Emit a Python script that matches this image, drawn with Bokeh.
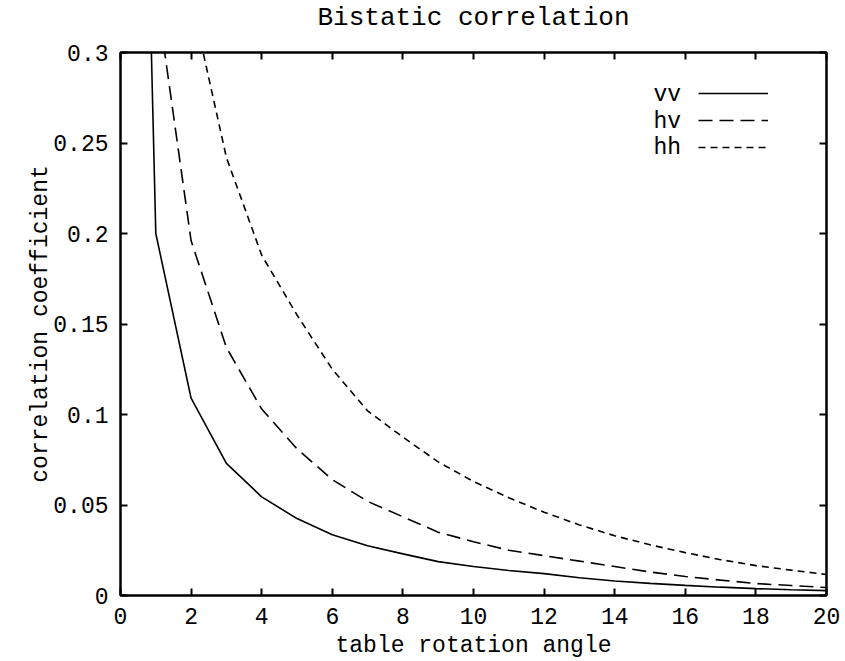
from bokeh.plotting import figure
from bokeh.models import (Range1d, LinearAxis, FixedTicker, Legend, LegendItem,
                          Label, ColumnDataSource)
from bokeh.embed import file_html
from bokeh.resources import INLINE

# ---- data ----
angle = list(range(0, 21))
vv = [1.0, 0.2, 0.109, 0.073, 0.0545, 0.0425, 0.0336, 0.0275, 0.023, 0.0187,
      0.016, 0.0138, 0.0121, 0.0098, 0.0080, 0.0067, 0.0056, 0.0046, 0.0038,
      0.0032, 0.0027]
hv = [1.0, 0.335, 0.196, 0.137, 0.103, 0.081, 0.064, 0.052, 0.0435, 0.035,
      0.0297, 0.025, 0.022, 0.019, 0.016, 0.013, 0.0105, 0.0085, 0.0066,
      0.0055, 0.0044]
hh = [1.0, 0.6, 0.33, 0.242, 0.188, 0.155, 0.125, 0.102, 0.0875, 0.0738,
      0.063, 0.054, 0.046, 0.039, 0.033, 0.028, 0.0237, 0.0198, 0.0165,
      0.014, 0.0116]
series_names = ["vv", "hv", "hh"]
title_text = "Bistatic correlation"

x_ticks = [0, 2, 4, 6, 8, 10, 12, 14, 16, 18, 20]
y_ticks = [0, 0.05, 0.1, 0.15, 0.2, 0.25, 0.3]
y_tick_labels = ["0", "0.05", "0.1", "0.15", "0.2", "0.25", "0.3"]

FONT = "Liberation Mono"

p = figure(width=845, height=661, output_backend="svg", toolbar_location=None,
           x_range=Range1d(0, 20), y_range=Range1d(0, 0.3),
           title=title_text,
           x_axis_label="table rotation angle",
           y_axis_label="correlation coefficient",
           min_border_left=120, min_border_right=19,
           min_border_top=52, min_border_bottom=64)

p.grid.visible = False
p.outline_line_color = "black"
p.outline_line_width = 2
p.background_fill_color = "white"
p.border_fill_color = "white"

p.title.text_font = FONT
p.title.text_font_size = "26px"
p.title.text_font_style = "normal"
p.title.align = "center"
p.title.text_color = "black"
p.title.standoff = 0

for ax in (p.xaxis[0], p.yaxis[0]):
    ax.axis_label_text_font = FONT
    ax.axis_label_text_font_size = "23px"
    ax.axis_label_text_font_style = "normal"
    ax.axis_label_text_color = "black"
    ax.major_label_text_font = FONT
    ax.major_label_text_font_size = "23px"
    ax.major_label_text_color = "black"
    ax.major_tick_in = 7
    ax.major_tick_out = 0
    ax.minor_tick_line_color = None
    ax.axis_line_width = 2
    ax.major_tick_line_width = 2
    ax.axis_line_color = "black"
    ax.major_tick_line_color = "black"

p.xaxis[0].ticker = FixedTicker(ticks=x_ticks)
p.yaxis[0].ticker = FixedTicker(ticks=y_ticks)
p.yaxis[0].major_label_overrides = dict(zip(y_ticks, y_tick_labels))
p.xaxis[0].major_label_standoff = 12
p.xaxis[0].axis_label_standoff = 6
p.yaxis[0].major_label_standoff = 12
p.yaxis[0].axis_label_standoff = -4

# mirrored tick axes (ticks only, no labels drawn); the top one also reserves
# the gap between the frame and the title
top_ax = LinearAxis(ticker=FixedTicker(ticks=x_ticks),
                    major_label_overrides={t: "" for t in x_ticks},
                    major_label_text_color=None, major_label_text_font_size="0px",
                    axis_label=" ", axis_label_text_color=None,
                    axis_label_text_font_size="14px", axis_label_standoff=1,
                    major_tick_in=7, major_tick_out=0, minor_tick_line_color=None,
                    axis_line_width=2, major_tick_line_width=2, major_label_standoff=0)
right_ax = LinearAxis(ticker=FixedTicker(ticks=y_ticks),
                      major_label_overrides={t: "" for t in y_ticks},
                      major_label_text_color=None, major_label_text_font_size="0px",
                      major_tick_in=7, major_tick_out=0, minor_tick_line_color=None,
                      axis_line_width=2, major_tick_line_width=2, major_label_standoff=0)
p.add_layout(top_ax, "above")
p.add_layout(right_ax, "right")

src = ColumnDataSource(dict(angle=angle, vv=vv, hv=hv, hh=hh))
r_vv = p.line("angle", "vv", source=src, line_color="black", line_width=1.6)
r_hv = p.line("angle", "hv", source=src, line_color="black", line_width=1.6,
              line_dash="14 7")
r_hh = p.line("angle", "hh", source=src, line_color="black", line_width=1.6,
              line_dash="7 5")

legend = Legend(items=[LegendItem(label="", renderers=[r]) for r in (r_vv, r_hv, r_hh)],
                location=(578, 438), orientation="vertical",
                glyph_width=70, glyph_height=20, label_height=20,
                label_text_font_size="10px", label_text_color=None, label_standoff=0,
                spacing=7, padding=0, margin=0,
                border_line_color=None, background_fill_alpha=0)
p.add_layout(legend, "center")

label_y = [0.2763, 0.2615, 0.2472]
for name, yy in zip(series_names, label_y):
    p.add_layout(Label(x=15.1, y=yy, text=name, text_font=FONT,
                       text_font_size="23px", text_baseline="middle",
                       text_align="left", text_color="black"))

open("out.html", "w").write(file_html(p, INLINE))
